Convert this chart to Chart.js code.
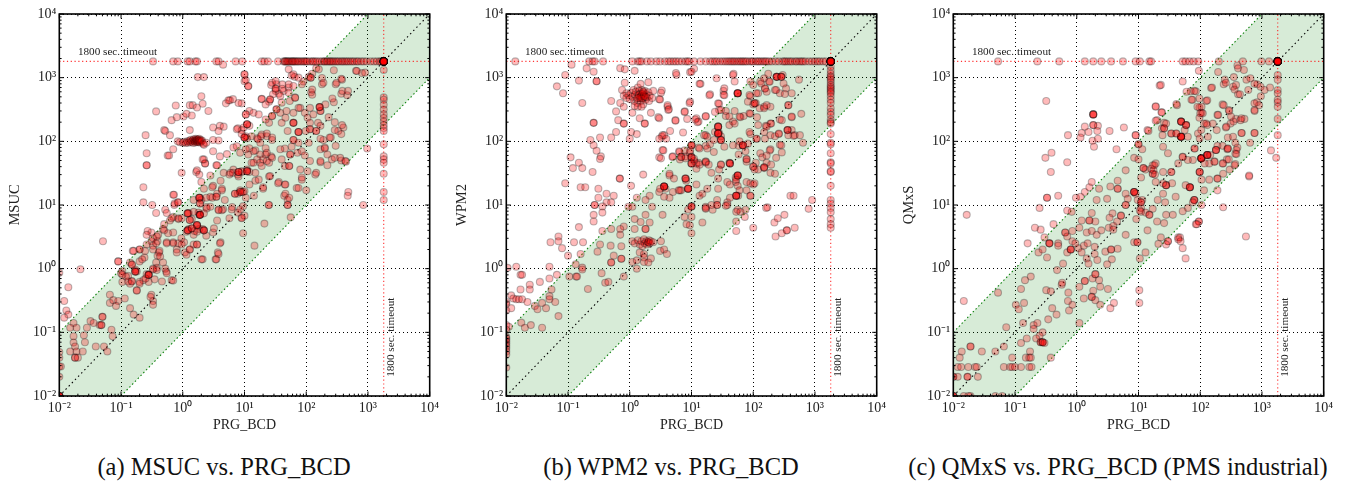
<!DOCTYPE html>
<html><head><meta charset="utf-8">
<script src="https://cdn.jsdelivr.net/npm/chart.js@4"></script>
<style>
html,body{margin:0;padding:0;background:#fff;width:1346px;height:483px;overflow:hidden}
canvas{position:absolute;top:0}
.cap{position:absolute;top:453px;font:24.5px/28px "Liberation Serif",serif;color:#111;white-space:nowrap;transform:translateX(-50%)}
</style></head><body>
<canvas id="a" style="left:0;width:445px;height:440px"></canvas>
<canvas id="b" style="left:447.4px;width:445px;height:440px"></canvas>
<canvas id="c" style="left:894.4px;width:445px;height:440px"></canvas>
<div class="cap" style="left:224px">(a) MSUC vs. PRG_BCD</div>
<div class="cap" style="left:671px">(b) WPM2 vs. PRG_BCD</div>
<div class="cap" style="left:1118px">(c) QMxS vs. PRG_BCD (PMS industrial)</div>
<script>
const decadeTicks=[0.01,0.1,1,10,100,1000,10000];
const minorFactors=[2,3,4,5,6,7,8,9];
const timeoutValue=1800;
const bandPolygon=[[0.01,0.01],[0.01,0.1],[1000,10000],[10000,10000],[10000,1000],[0.1,0.01]];
const upperEdge=[[0.01,0.1],[1000,10000]];
const lowerEdge=[[0.1,0.01],[10000,1000]];
const diagonal=[[0.01,0.01],[10000,10000]];
const timeoutLabel="1800 sec. timeout";

const msucTimeoutX=[0.33,0.7,0.83,1.2,1.3,1.6,1.7,3.5,3.8,7.2,9.2,19,21,24,35,43,45,46,48,50,52,55,58,60,62,65,68,72,75,80,85,90,95,100,105,115,125,130,140,150,165,180,195,200,215,225,240,250,265,280,300,320,340,370,390,420,450,480,520,560,600,660,700,780,850,950,1100,1250,1400,1550,1650];
const msucTimeoutY=[1320,490,450,375,315,265,233,205,180,162,145,90,58,52,46,31,16,12];
const msucPoints=[[0.37,295],[0.25,125],[0.26,65],[0.26,42],[0.26,42],[0.23,19],[0.23,11],[0.32,10],[0.37,7.5],[0.52,8.4],[0.7,14.5],[0.73,10],[0.83,11],[0.96,32],[0.5,150],[0.52,145],[0.62,125],[0.66,215],[0.77,365],[0.8,240],[1.03,245],[1.15,270],[1.3,370],[1.45,370],[1.4,255],[1.7,340],[2,510],[2.1,390],[2.6,300],[1.3,150],[0.57,60],[0.7,75],[0.83,100],
[0.9,97],[1,95],[1.05,98],[1.12,94],[1.18,100],[1.22,95],[1.28,102],[1.32,97],[1.35,106],[1.4,99],[1.45,103],[1.48,94],[1.5,108],[1.55,100],[1.58,104],[1.6,96],[1.62,110],[1.65,101],[1.68,105],[1.7,98],[1.72,108],[1.75,103],[1.78,97],[1.8,106],[1.82,100],[1.85,110],[1.88,102],[1.9,96],[1.95,105],[2,99],[2.05,103],[2.15,92],[2.2,88],
[3.1,165],[4,175],[4.6,170],[3.8,145],[3.1,105],[3.8,103],[2.4,95],[3.1,70],[4,58],[5.2,63],[6.6,80],[7.8,160],[9,150],[9,395],[5.8,440],[5,395],[5.5,440],[4.5,1600],[1.75,1020],[2.2,1020],[10,1120],[10,880],[11.5,730],[10.5,265],[12,300],[19,460],[25,420],[9.7,165],[12,175],[10.5,120],[11,112],
[27,770],[33,790],[32,620],[36,560],[43,620],[52,700],[58,1080],[65,1030],[90,870],[110,1030],[125,1150],[145,1400],[120,590],[125,540],[180,990],[180,790],[280,1310],[380,930],[300,790],[640,1280],[800,1180],[370,560],[460,530],[280,410],[170,300],[170,300],[230,240],[290,200],[400,165],[190,105],[250,115],[330,145],[170,75],[200,80],[300,85],[260,52],[370,50],[440,48],[170,47],[220,42],[140,30],[970,77],[480,16],[470,14],[840,10],[85,25],[70,18.5],[45,21],[36,23],[100,17],[44,14],[50,12],[50,10],[24.5,10],[21,5.1],[56,6.4],
[13,120],[16,112],[19,128],[23,120],[28,105],[18,95],[12,78],[15,72],[18,62],[22,78],[27,58],[16,52],[20,52],[25,46],[13,46],[11,36],[9,33],[6.6,36],[5.7,30],[8,28],[12,33],[15,24],[12,21],[17,25],[20,18],[25,28],[9,16],[7.8,15],[10.5,13],[6.3,9.3],[4.5,8.6],[3.8,8.5],[9,6.3],[9.5,9.6],
[1.9,13],[2,12],[1.8,7.6],[1.85,7],[1.25,7.5],[1.4,6],[1.7,4.7],[1.85,4.2],[1.25,4.2],[1.15,3.8],[1.55,3.9],[2.1,4.2],[2.4,9.3],[3,13],[3.6,15],[4.3,18],[3.1,20],[4.1,24],[3.5,42],[2.3,45],[2.2,52],[2.8,29],[1.65,33],[2,23],[1.5,12],[2.4,13],[0.55,7.5],[0.62,5.7],[0.7,6.5],[0.85,6],[0.48,4.2],[0.31,3.7],[0.4,3.4],[0.58,3.6],[0.95,3],[1.5,3.4],[2.4,3.3],[3.1,3.7],[3.6,5.7],[5.7,6.2],[9.5,3.6],[7.8,7.6],[10,6.8],
[0.051,2.7],[0.022,0.98],[0.09,1.3],[0.155,1.9],[0.2,2],[0.31,2.7],[0.39,2.7],[0.33,2.3],[0.26,2.4],[0.41,1.8],[0.39,1.6],[0.7,2.6],[0.8,2],[1.08,1.8],[1.05,2.6],[1.3,2],[1.7,2.4],[2.1,1.4],[3.4,1.4],[3.7,1.8],[4.1,2.6],[14.5,2.3],[0.55,2.6],
[0.105,0.92],[0.105,0.62],[0.14,1.25],[0.15,1.17],[0.17,0.97],[0.18,0.9],[0.2,1.3],[0.24,1.5],[0.37,1.25],[0.48,1.25],[0.26,0.82],[0.28,0.8],[0.33,0.97],[0.38,1.03],[0.54,0.9],[0.13,0.77],[0.15,0.64],[0.14,0.58],[0.2,0.62],[0.23,0.66],[0.28,0.62],[0.35,0.68],[0.66,0.66],[0.18,0.46],[0.31,0.39],[0.33,0.31],[0.33,0.27],[0.115,0.34],[0.066,0.39],[0.066,0.29],[0.075,0.32],[0.09,0.31],[0.083,0.26],[0.14,0.24],[0.16,0.19],[0.2,0.17],
[0.014,0.51],[0.012,0.31],[0.013,0.22],[0.014,0.19],[0.012,0.17],[0.017,0.14],[0.015,0.118],[0.019,0.118],[0.028,0.118],[0.032,0.15],[0.036,0.14],[0.045,0.13],[0.048,0.13],[0.048,0.13],[0.05,0.175],[0.05,0.175],[0.07,0.11],[0.073,0.087],[0.025,0.09],[0.017,0.087],[0.017,0.069],[0.018,0.06],[0.015,0.05],[0.019,0.05],[0.018,0.04],[0.018,0.04],[0.02,0.04],[0.024,0.05],[0.026,0.07],[0.039,0.06],[0.053,0.06],[0.06,0.05],[0.0106,0.029],
[0.01,0.86],[0.01,0.049],[0.01,0.04],[0.01,0.029],[0.01,0.02],[0.01,0.01],[0.01,0.01],[0.01,0.01],[0.01,0.01],[0.01,0.01],[0.01,0.01]];
const msucDense=[[28,830],[32,885],[41,785],[52,785],[32,670,2],[41,670],[62,740],[29,550],[38,515],[52,580],[66,485,2],[54,430],[40,405],[26,455,2],[19,465],[22,380],[33,318,2],[28,250,2],[25,195],[38,280],[46,235],[62,195,3],[75,140,3],[50,145],[40,195],[48,300],[80,335],[95,280],[115,335],[165,345,3],[105,235],[130,265],[115,195],[155,195],[170,175],[115,155,2],[98,145],[145,145,2],[75,335],[62,280],[265,470],[205,380],[380,180],[290,150],[370,130],[240,115],[170,110],[200,77],[220,62],[170,49],[290,55],[355,55],[430,49],[145,32],[105,34],[85,27],[80,36],[45,41],[53,41,2],[40,52],[28,55],[22,62],[18,46],[14,70],[10,115,3],[16.5,108],[18.5,120],[23,133],[28,115],[62,105,2],[75,95],[58,82],[72,66],[85,70],[110,95],[95,60],[115,49],[55,62,2],[45,77],[38,75],[9,130],[7.5,155],[11,185,3],[10.5,265],[14,280],[17,265],[22,220],[8,400],[6.5,460],[10,1130],[10.5,920],[11.5,740],[11,34,3],[9,34],[6.5,32],[7.8,30],[8.5,17],[10,16.5],[7,15],[14.2,14],[20,19],[26,28.5],[35,22],[46,21],[75,18.5],[46,15],[53,13],[25,10],[50,10],[15,32],[19,41],[23,49],[14,46],[11.5,62],[8.5,66],[7.5,84],[10.5,75],[23,66],[52,1350],[62,1130],[75,1000],[118,1000,2],[85,790],[125,650],[160,1350],[190,830],[310,830],[370,960],[385,620],[475,620],[660,1270],[900,1200],
[1.85,13,3],[1.9,10.6,2],[1.9,7,4],[2.2,7.4],[1.2,7.4,3],[1.5,7.8],[1.3,5.8,2],[1.7,4.85,3],[2.2,4,3],[1.2,4,3],[1.4,4.3,2],[1.7,3.8],[2.45,8.8],[2.8,9.4],[3.5,13.5,2],[2.8,13.5],[2.2,18],[3,19],[3.6,42],[2.3,45],[1.7,35],[1.85,30],[2.1,52],[0.6,60],[0.72,14.5],[0.74,10.6],[0.85,11],[0.66,6.2],[0.85,6.2],[0.96,6.2],[0.5,5],[0.5,4],[0.7,3.7],[0.7,2.5],[0.55,2.5],[0.27,3.9],[0.26,3.4],[0.33,3],[0.38,3.2],[0.37,2.5],[0.2,2],[0.16,1.9],[0.245,1.9],[0.22,1.4],[0.42,1.9],[0.43,1.55],[0.33,2],[0.85,2.5],[0.8,1.8],[0.96,2.4],[1.3,2],[1.5,2.4],[1.7,2.4],[1.15,1.65],[2,1.4],[3.5,1.4],[3.8,1.7],[3.2,4.3],[4,2.5],[0.09,1.3],[0.1,0.85],[0.15,1.15],[0.17,0.9,3],[0.28,0.8,3],[0.33,1],[0.38,0.95],[0.52,1],[0.55,0.85],[0.7,0.65],[0.12,0.75],[0.105,0.8],[0.13,0.63],[0.15,0.63],[0.25,0.7],[0.2,0.58],[0.18,0.45],[0.3,0.36],[0.46,0.63],[8,33,3],[5.9,32],[8.5,16,2],[9.5,16],[7,15],[6.2,8.5],[8.5,8.5],[4.3,8.3],[3.8,8.3],[9,6.2],[4.6,32],[4.3,17],[4.8,12]];

const wpm2TimeoutX=[0.014,0.22,0.25,0.27,0.37,1.1,1.35,1.45,1.55,1.9,2.2,2.7,3.1,3.7,4.2,4.6,5.1,5.6,6.2,7,8,8.6,9.2,11,14,17,20,22,24,26,29,32,35,38,41,44,47,50,54,58,62,66,70,75,80,88,95,100,110,118,125,135,145,155,165,180,200,230,260,300,320,340,370,400,430,480,510,560,600,640,700,800,900,1000,1100,1200,1350,1500];
const wpm2TimeoutY=[1500,1300,1150,1050,1000,930,850,770,720,680,640,600,570,510,450,400,330,290,260,220,200,190,130,95,90,65,47,45,34,33,20,12,10.5,9,7.7,6,5,4.4];
const wpm2Points=[[0.066,730],[0.083,570],[0.09,1100],[0.114,1600],[0.15,900],[0.17,400],[0.2,1400],[0.26,1240],[0.29,880],[0.29,880],[0.7,1410],[0.83,1350],[1.2,1280],[0.83,830],[0.75,640],[0.88,570],
[0.8,520],[0.88,480],[0.95,530],[1,460],[1.05,580],[1.1,500],[1.15,640],[1.18,430],[1.22,540],[1.25,600],[1.3,470],[1.33,400],[1.35,700],[1.4,540],[1.42,620],[1.45,480],[1.48,560],[1.5,800],[1.52,430],[1.55,510],[1.58,640],[1.6,540],[1.62,470],[1.65,380],[1.68,580],[1.7,500],[1.75,620],[1.8,450],[1.85,550],[1.9,490],[2,590],[2.05,430],[2.1,520],[2.3,480],[1.35,350],[1.55,350],[1.2,360],
[1.4,530,3],[1.5,500,3],[1.6,560,3],[1.7,520,3],[1.55,470,2],[1.35,480,2],[1.65,600,2],[1.8,500,2],
[2,850],[2.4,620],[3.3,630],[3,460],[0.5,430],[0.7,400],[0.6,295],[0.8,350],[0.65,215],[0.8,190],[0.8,190],[0.26,195],[0.26,195],[1.1,280],[1.45,230],[1.75,190],[1.75,190],[2.2,280],[2.9,240],[4.1,350],[4.2,310],[5.5,215],[7.8,295],[8.5,225],[9.5,420],[12,230],[13,205],[17,250],[5.7,1100],[9.5,1220],[11,1380],[14,800],[20,550],[33,620],[33,540],[48,1150],[50,870],[56,570],[56,570],[56,570],[56,570],[56,570],
[0.23,105],[0.26,87],[0.29,71],[0.34,58],[0.33,53],[0.11,56],[0.15,46],[0.12,38],[0.17,38],[0.25,33],[0.09,22],[0.16,19],[0.19,19],[0.31,18],[0.42,15],[0.55,14],[0.31,13],[0.27,10],[0.27,10],[0.42,11],[0.5,11],[0.36,9.5],[0.26,7],[0.36,7.6],[0.15,4.5],[0.26,5.5],[0.07,3.2],[0.69,26],[0.69,26],[1.05,20],[1.65,30],[0.33,115],[0.5,115],[0.6,140],[1,110],[1.05,140],[1.3,130],[3,56],[3.4,73],
[3.3,118],[3.6,125],[5,58],[6.3,70],[6.5,52],[8,58],[9.4,66],[11,49],[13,46],[17,46],[12,37],[10,57],[13,80],[17,85],[20,90],[17,125],[28,135],[30,120],[24,140],[36,250],[47,205],[62,240],[70,250],[90,270],[115,240],[120,180],[36,300],[50,300],[28,390],[28,310],[58,85],[58,62],[78,52],[41,46],[52,27],[52,23],[78,23],[100,21],[90,14],[57,14],[38,11],[26,12],[17,9.4],[22,8.4],[38,10],[56,8.4],[75,8.4],[53,5.5],[53,3.9],[100,4.4],[170,9.2],[220,5.3],[250,6.2],[320,7],[350,4],[350,4],[470,4.4],[290,3.6],[230,3.2],[400,14],[450,14],[900,12],[790,8.7],
[90,870],[100,770],[130,870],[175,1150],[300,1100],[550,930],[180,870],[155,670],[225,640],[270,570],[340,680],[420,570],[90,510],[120,570],[150,350],[110,400],[100,380],[190,350],[420,240],[600,270],[270,220],[160,175],[190,190],[420,150],[470,125],[570,125],[640,95],[260,130],[190,125],[155,110],[115,110],[90,130],[270,88],[190,75],[290,67],[130,65],[140,56],[165,46],[150,38],[190,32],[225,31],[120,36],[110,46],[75,70],
[3.8,18],[3,16],[5,16],[6.5,17],[8.8,18],[12,21],[8.2,24],[4.4,29],[2.1,14],[1.8,12],[1.3,13],[0.95,9.4],[1.1,9.4],[2.3,9.4],[1.8,7],[2.1,5.3],[1.8,4.2],[1.8,4.2],[1.2,6],[1.5,5.4],[0.8,4.6],[1.2,4.2],[3.4,7],[0.7,4.2],[0.7,3.4],[0.36,3.9],[0.5,4.2],[9.4,4.8],[8.3,5],[10,3.6],[15,5.3],[17,8.7],
[0.052,2.6],[0.07,2.7],[0.08,2.1],[0.125,2.6],[0.175,2.6],[0.1,1.6],[0.16,1.7],[0.133,1.17],[0.17,1.04],[0.33,2.4],[0.49,2.3],[0.73,2.25],[0.3,1.85],[0.55,1.6],[0.73,1.43],[0.73,1.43],[0.5,1.25],[0.5,1.25],[1.1,2.7],
[1.2,2.5],[1.35,2.8],[1.45,2.4],[1.55,2.7],[1.6,2.25],[1.7,2.9],[1.75,2.5],[1.85,2.7],[1.9,2.4],[2,2.6],[2,2.6],[2.05,2.8],[2.1,2.5],[2.2,2.7],[2.4,2.6],[1.45,1.8],[1.7,1.7],[1.7,1.5],[1.1,1.27],[1.3,1.35],[1.7,1.27],[2.2,1.45],[1.3,1],[2,1.25],[3.1,1.9],[3.6,2],[4,1.7],[3.2,2.7],
[0.105,0.75],[0.135,0.75],[0.14,0.75],[0.17,0.97],[0.35,0.85],[0.8,0.75],[0.21,0.48],[0.4,0.6],[0.45,0.62],
[0.0105,1.03],[0.0145,1.07],[0.05,1.07],[0.017,0.8],[0.018,0.8],[0.066,0.8],[0.05,0.7],[0.035,0.62],[0.024,0.56],[0.024,0.47],[0.017,0.47],[0.054,0.47],[0.012,0.38],[0.013,0.34],[0.0145,0.33],[0.016,0.33],[0.018,0.33],[0.022,0.3],[0.05,0.37],[0.05,0.33],[0.062,0.3],[0.038,0.29],[0.029,0.26],[0.032,0.23],[0.044,0.24],[0.012,0.24],[0.07,0.18],[0.0175,0.142],[0.02,0.118],[0.025,0.13],[0.038,0.118],[0.011,0.122],
[0.01,0.3],[0.01,0.28],[0.01,0.22],[0.01,0.13],[0.01,0.11],[0.01,0.085],[0.01,0.08],[0.01,0.075],[0.01,0.07],[0.01,0.065],[0.01,0.06],[0.01,0.055],[0.01,0.05],[0.01,0.045],[0.01,0.028]];
const wpm2Dense=[[27,170,4],[27,133,4],[30,105,3],[41,245],[41,180],[60,245],[50,190],[87,275],[105,395,2],[127,330],[150,330],[165,370],[112,570],[87,535],[82,420],[68,87,4],[87,140],[112,110],[82,92],[60,100],[47,87],[34,82],[23,105],[18,118],[16,125],[10,87,3],[9.5,72],[7.7,72],[6.4,68],[6.8,57,2],[8,54],[10,56,2],[10,45,3],[12,45],[13.5,43],[17,48,2],[19,43],[11,53],[13.5,77],[18,77],[23,68],[42,45,3],[30,43,2],[28,36],[21,32],[27,26],[38,23],[42,21],[56,29,4],[53,25],[56,20],[60,17],[53,14,4],[42,13],[100,40,2],[105,36],[150,39,2],[195,43],[78,48],[78,53],[185,72],[285,87],[235,55],[165,60],[78,17],[90,22],[105,22],[90,14],[3.6,19.5,5],[3.1,18],[4.4,13],[3.6,13.5],[4.4,31],[5.2,26],[8,26,3],[6.8,17],[8.8,18,3],[6.2,17],[13.5,14],[15,15],[18,18],[27,18],[10,9.5,3],[8.8,8.5],[17,9],[26,10,2],[36,9.7],[21,10],[10,6.5],[7.7,6.5],[53,7.8],[62,7.8],[73,6.5],[162,9],[5.6,1180],[10,1240],[13.5,800],[34,680],[34,530],[47,1100],[25.5,980],[19.5,530],[27,395],[30,310],[24,290],[9.3,400],[7.7,290],[4.1,370],[4.3,320],[3.1,455],[3.2,580],[17,245],[12.5,200],[11.5,220],[5.5,210],[3,230],[7.3,138],[4.5,145],[3.4,125],[3.9,110],[3,110],[3.5,72],[3.2,54],[4.9,57],[240,1030,4],[285,1030,3],[185,865],[155,680],[165,600],[235,640],[310,810],[325,555],[135,810],[150,975],[370,370,2],[420,245],[290,215],[195,190],[165,170],[150,140],[225,120],[260,133],[360,150,3],[450,122],[370,125]];

const qmxsTimeoutX=[0.053,0.23,0.52,1.35,1.85,2.5,3.6,5.6,9,10.5,15,16,52,58,67,78,93,200,490,980,1300];
const qmxsTimeoutY=[1100,930,640,570,450,410,350,225,125];
const qmxsPoints=[[1400,72],[1700,55],[0.32,430],[0.0165,7],[0.31,55],[0.39,66],[0.7,47],[0.38,33],[0.33,13],[0.33,13],[0.5,14],[0.25,9],[0.7,8.2],[0.83,7.8],[0.97,13],[1.15,13.5],[1.35,16],[1.6,19],[1.75,23],
[1.85,265],[1.85,265],[1.85,265],[1.85,265],[1.35,170],[1.85,180],[1.85,180],[2.2,175],[1.2,135],[1.15,115],[1.55,140],[2.15,145],[1.8,102],[2.2,110],[1.9,82],[0.72,125],[3.4,145],[5.8,165],[4.4,75],[9,125],[10,90],[10,90],[11.5,75],[8.5,55],[10,52],[14,150],[19,355],[22,750],[24,285],[20,215],[26,195],[24,160],[13,36],[12,38],[6.2,35],[4.6,24],[3.5,19.5],[4.6,18],[4.6,18],[2.3,18],[6.2,15],[8.5,16],[8.5,16],[9,15],
[52,870],[70,610],[85,610],[97,470],[75,450],[125,430],[42,370],[97,340],[105,350],[105,280],[97,235],[115,190],[130,180],[95,1280],[195,1230],[150,690],[240,790],[250,930],[350,1020],[340,720],[360,650],[560,930],[650,980],[400,1550],[410,1400],[510,1320],[410,550],[600,640],[840,790],[950,720],[1100,640],[1350,700],[960,510],[830,410],[900,370],[760,300],[230,380],[190,260],[290,310],[380,225],[520,225],[450,215],[310,190],[260,165],[760,135],[470,135],[280,115],[340,118],[640,95],[370,95],[230,85],[400,80],[190,85],[275,75],[370,64],[370,44],[235,45],[270,52],[620,28],[300,36],[235,31],[235,9.2],[95,5.5],[95,5.5],[85,5],[550,3.2],
[19,23],[17,31],[17,31],[17,42],[19,45],[16,37],[9.7,12],[11.5,12],[6.7,12.5],[6.2,10],[6.2,10],[3.1,12.5],[2.1,12],[3.8,7.4],[5.2,6.8],[5.2,6.8],[4.5,5.5],[3.4,6.3],[1.75,7.5],[1.6,5.7],[1.6,5.7],[2,5.5],[1.2,5.7],[1.1,4.4],[1.45,3.7],[1.75,3.9],[2.1,3.4],[2.5,4],[3.3,4.4],[3.9,4.7],[3.9,4.1],[11,9],[17,8.7],[13,7.6],[15,7],[11,7.8],[9.2,6],[20,5.5],[26,5.2],[14,4],[6.2,3.4],[0.21,4.4],[0.26,4.1],[0.42,5],[0.3,3.1],[0.65,3.7],[0.65,3.7],[0.85,3.9],[0.7,3.2],[23,3.1],[44,3.1],[47,3.1],
[0.16,2.5],[0.24,1.8],[0.28,2],[0.36,2.5],[0.36,2.5],[0.36,2.5],[0.5,2.5],[0.5,2.3],[0.33,1.5],[0.7,1.8],[0.8,2],[0.8,2],[0.8,2],[0.6,1.2],[0.48,0.95],[0.85,2.7],[1.06,2.1],[1.3,2.3],[1.5,2.5],[0.95,2.5],[1.2,1.8],[1.95,2.2],[1.95,1.7],[1.45,1.45],[2.15,1.37],[1.55,1.2],[2.9,1.85],[3.6,2],[3.6,2],[4.6,2.05],[3.7,1.4],[3.1,1.17],[8.5,2.6],[9.6,2.6],[9.6,2.6],[21,2.45],[30,2.7],[30,2.7],[28,2.4],[13,1.8],[10.5,1.45],[10.3,0.46],[10.3,0.29],[4,0.29],[3.5,0.24],[44,2.9],[48,2.7],[52,2.1],[58,1.45],
[0.053,0.42],[0.0148,0.31],[0.18,0.75],[0.145,0.66],[0.125,0.48],[0.14,0.29],[0.103,0.27],[0.115,0.23],[0.135,0.14],[0.072,0.12],[0.2,0.13],[0.23,0.14],[0.2,0.113],[0.28,0.1],[0.25,0.088],[0.155,0.08],[0.125,0.068],[0.22,0.08],[0.26,0.07],[0.26,0.07],[0.28,0.07],[0.28,0.07],[0.28,0.07],[0.3,0.068],[0.345,0.16],[0.47,0.19],[0.4,0.24],[0.75,0.22],[0.85,0.27],[0.72,0.31],[0.73,0.42],[0.57,0.56],[0.58,0.6],[0.32,0.46],[0.38,0.44],[1.1,0.52],[1.35,0.64],[1.35,0.64],[1.8,0.7],[2,0.82],[2,0.82],[2.3,0.66],[2.4,0.52],[1.85,0.45],[3.2,0.48],[1.75,0.36],[1.75,0.36],[1.3,0.34],[2,0.32],[2.4,0.27],[1.1,0.14],[0.38,0.04],[0.175,0.05],[0.15,0.04],[0.17,0.04],[0.18,0.04],[0.029,0.05],[0.048,0.05],[0.066,0.06],[0.019,0.06],[0.019,0.06],[0.0137,0.05],[0.0127,0.04],[0.09,0.04],
[0.0118,0.0285],[0.0134,0.0285],[0.0175,0.0285],[0.0225,0.0285],[0.024,0.0285],[0.066,0.0285],[0.083,0.0285],[0.09,0.0285],[0.1,0.0285],[0.125,0.0285],[0.17,0.0285],[0.185,0.0285],
[0.01,0.02],[0.01,0.02],[0.0118,0.02],[0.017,0.02],[0.017,0.02],[0.025,0.02],
[0.01,0.01],[0.01,0.01],[0.01,0.01],[0.01,0.01],[0.0148,0.01],[0.0175,0.01],[0.019,0.01],[0.048,0.01],[0.062,0.01]];
const qmxsDense=[[49,204,4],[59,180,3],[49,118,6],[34,133,2],[41,133,2],[26,160,2],[24.5,125],[63,118],[56,150],[92,133],[104,150],[98,111],[81,77,2],[104,54,6],[130,61,5],[180,73,3],[145,61],[170,48,2],[140,45],[118,45],[76,51],[63,51],[52,57,2],[44,45],[34,33,2],[25,33],[18,42],[17.5,35],[18.5,30],[12,38],[11,27],[98,33,3],[105,25],[140,25],[190,26,2],[190,17],[115,17],[68,19,4],[58,20.5],[28,20.5,3],[25,22],[35,22],[80,12,3],[76,11],[105,10],[63,9],[40,13.5],[27,11],[20.5,12],[25,15],[8.5,16,2],[11,11,2],[10.5,8.2],[15,7],[28,7],[36,7],[52,8],[88,5],[23,770],[60,600],[41,385],[19,350],[23.5,285],[19,210],[14.5,145],[9,125],[80,620],[72,450],[90,350],[100,275],[110,275],[130,440],[155,700],[240,370],[295,300],[345,205],[195,260],[125,190],[185,150],[133,118],[265,170],[315,245],[465,230],[755,310],[755,395],[465,135],[755,135],[280,77,2],[385,73],[385,63],[290,52],[230,45],[360,42],[620,29],[755,800],[440,550],[380,770],[260,830],[160,190],[28,190],[25,82],[30,65]];

const cornerRepeatCount=40;
const sup={"-":"\u207B","0":"\u2070","1":"\u00B9","2":"\u00B2","3":"\u00B3","4":"\u2074"};
function tickText(v){const e=Math.round(Math.log10(v));return "10"+String(e).split("").map(c=>sup[c]).join("");}
const serif='"Liberation Serif",serif';

const framePlugin={id:"frame",afterDatasetsDraw(chart){
  const {ctx,chartArea:a,scales:{x,y}}=chart;
  ctx.save();ctx.strokeStyle="#000";ctx.lineWidth=1;
  const seg=(x1,y1,x2,y2)=>{ctx.beginPath();ctx.moveTo(x1,y1);ctx.lineTo(x2,y2);ctx.stroke();};
  decadeTicks.forEach((d,i)=>{
    const f=[1].concat(i<decadeTicks.length-1?minorFactors:[]);
    f.forEach(m=>{const v=d*m,len=m===1?4.5:2.3,px=x.getPixelForValue(v),py=y.getPixelForValue(v);
      seg(px,a.bottom,px,a.bottom-len);seg(px,a.top,px,a.top+len);
      seg(a.left,py,a.left+len,py);seg(a.right,py,a.right-len,py);});
  });
  ctx.lineWidth=1.6;ctx.strokeRect(a.left,a.top,a.right-a.left,a.bottom-a.top);
  ctx.fillStyle="#222";ctx.font='11.2px '+serif;ctx.textBaseline="alphabetic";
  ctx.fillText(timeoutLabel,x.getPixelForValue(0.02),y.getPixelForValue(2300));
  ctx.translate(x.getPixelForValue(2650),y.getPixelForValue(0.02));ctx.rotate(-Math.PI/2);
  ctx.fillText(timeoutLabel,0,0);
  ctx.restore();
}};

function lineSet(pts,color,order,dash){return {type:"scatter",data:pts.map(p=>({x:p[0],y:p[1]})),showLine:true,pointRadius:0,borderColor:color,borderWidth:1.1,borderDash:dash,order:order,fill:false,clip:0};}
function expand(list){const out=[];list.forEach(p=>{for(let i=0;i<(p[2]||1);i++)out.push([p[0],p[1]]);});return out;}

function panel(id,yTitle,points,dense,timeoutXs,timeoutYs){
  const marks=points.concat(expand(dense),timeoutXs.map(v=>[v,timeoutValue]),timeoutYs.map(v=>[timeoutValue,v]));
  for(let i=0;i<cornerRepeatCount;i++)marks.push([timeoutValue,timeoutValue]);
  const band={type:"scatter",data:bandPolygon.map(p=>({x:p[0],y:p[1]})),showLine:true,pointRadius:0,borderWidth:0,borderColor:"rgba(0,0,0,0)",backgroundColor:"rgba(0,128,0,0.155)",fill:"shape",order:5,clip:0};
  const gridOpt={color:"#000",lineWidth:1,drawTicks:false,z:-1};
  const borderOpt={display:false,dash:[1,3]};
  new Chart(document.getElementById(id),{type:"scatter",
    data:{datasets:[
      {data:marks.map(p=>({x:p[0],y:p[1]})),backgroundColor:"rgba(255,0,0,0.27)",borderColor:"rgba(0,0,0,0.27)",borderWidth:1.1,pointRadius:3.5,order:0,clip:0},
      lineSet(diagonal,"#000",2,[1.5,3]),
      lineSet(upperEdge,"#0a800a",3,[1.5,2.5]),
      lineSet(lowerEdge,"#0a800a",3,[1.5,2.5]),
      lineSet([[timeoutValue,0.01],[timeoutValue,10000]],"rgba(255,0,0,0.8)",4,[1.2,2.6]),
      lineSet([[0.01,timeoutValue],[10000,timeoutValue]],"rgba(255,0,0,0.8)",4,[1.2,2.6]),
      band
    ]},
    plugins:[framePlugin],
    options:{responsive:false,animation:false,devicePixelRatio:1,
      layout:{padding:{left:0,top:14,right:15.3,bottom:0}},
      plugins:{legend:{display:false},tooltip:{enabled:false}},
      scales:{
        x:{type:"logarithmic",min:0.01,max:10000,
          afterBuildTicks(s){s.ticks=decadeTicks.map(v=>({value:v,major:true}));},
          afterFit(s){s.height=44;},
          grid:gridOpt,border:borderOpt,
          ticks:{callback:tickText,autoSkip:false,maxRotation:0,minRotation:0,padding:4,color:"#222",font:{family:serif,size:14}},
          title:{display:true,text:"PRG_BCD",color:"#222",font:{family:serif,size:14},padding:{top:0,bottom:6}}},
        y:{type:"logarithmic",min:0.01,max:10000,
          afterBuildTicks(s){s.ticks=decadeTicks.map(v=>({value:v,major:true}));},
          afterFit(s){s.width=59.3;},
          grid:gridOpt,border:borderOpt,
          ticks:{callback:tickText,autoSkip:false,padding:3,color:"#222",font:{family:serif,size:14}},
          title:{display:true,text:yTitle,color:"#222",font:{family:serif,size:14.5},padding:{top:6,bottom:0}}}
      }}});
}
[["a",445],["b",445],["c",445]].forEach(([id,w])=>{const c=document.getElementById(id);c.width=w;c.height=440;});
panel("a","MSUC",msucPoints,msucDense,msucTimeoutX,msucTimeoutY);
panel("b","WPM2",wpm2Points,wpm2Dense,wpm2TimeoutX,wpm2TimeoutY);
panel("c","QMxS",qmxsPoints,qmxsDense,qmxsTimeoutX,qmxsTimeoutY);
</script></body></html>
